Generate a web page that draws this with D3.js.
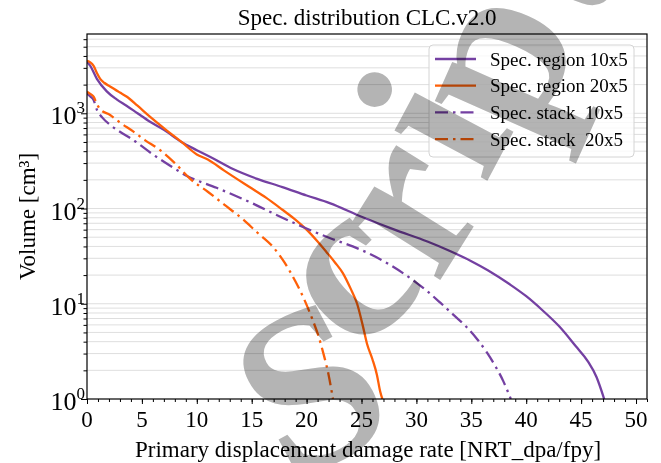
<!doctype html>
<html lang="en">
<head>
  <meta charset="utf-8">
  <title>Spec. distribution CLC.v2.0</title>
  <style>
    body { margin: 0; background: #fff; }
    svg { display: block; font-family: "Liberation Serif", "Times New Roman", serif; }
    .grid line { stroke: #d6d6d6; stroke-width: 0.8; }
    .axis path, .axis line { stroke: #000; }
    .legend text { white-space: pre; }
    .watermark text { fill: #b4b4b4; font-weight: bold; }
    .watermark { mix-blend-mode: multiply; }
  </style>
</head>
<body>
  <div id="chart"></div>
  <script src="https://cdn.jsdelivr.net/npm/d3@7"></script>
  <script>
// series values: damage rate [NRT_dpa/fpy] -> volume [cm3]
var seriesNames = ["Spec. region 10x5", "Spec. region 20x5", "Spec. stack  10x5", "Spec. stack  20x5"];

var rateRegion10 = [0, 0.3, 0.9, 1.8, 2.7, 3.6, 4.6, 5.7, 7, 8.6, 10, 11.5, 13.3, 15.5, 17.8, 20, 22.1, 25, 28, 31, 33, 35, 36.5, 38.5, 40, 41.5, 43, 44.5, 45.6, 46.4, 47.1];
var volRegion10 = [3480, 3150, 2300, 1700, 1400, 1200, 1000, 820, 670, 500, 410, 335, 260, 205, 168, 137, 114, 82, 60, 45, 36, 28, 22.5, 16, 12, 8.5, 5.8, 3.6, 2.5, 1.7, 1.0];

var rateRegion20 = [0, 0.3, 0.6, 0.9, 1.2, 1.6, 2.1, 3, 3.6, 4.6, 5.7, 7, 8.6, 10, 11, 12.5, 14.8, 16.3, 17.8, 19, 20, 21, 21.8, 22.6, 23.3, 24, 24.6, 25.1, 25.5, 26, 26.4, 26.7, 26.9];
var volRegion20 = [3550, 3420, 3150, 2650, 2300, 2080, 1910, 1650, 1500, 1200, 930, 700, 500, 370, 327, 250, 168, 130, 97, 76, 60, 45, 35, 27, 21, 14.5, 10, 6, 3.8, 2.6, 1.8, 1.2, 1.0];

var rateStack10 = [0, 0.3, 0.6, 0.9, 1.4, 2.1, 3, 4.2, 6, 7.5, 9.1, 11.8, 14.8, 17.6, 19.4, 22.1, 24.2, 25.5, 27.5, 29.6, 31, 32.2, 33.3, 34.5, 35.5, 36.4, 37.2, 37.9, 38.6];
var volStack10 = [1620, 1500, 1380, 1090, 900, 755, 640, 525, 370, 285, 220, 165, 117, 82, 66, 49, 40, 34.5, 26, 18, 13.5, 10.2, 7.8, 5.8, 4.3, 3.1, 2.2, 1.55, 1.0];

var rateStack20 = [0, 0.3, 0.6, 0.9, 1.2, 2.1, 3, 4.2, 5.3, 6.6, 8, 9.4, 11, 12.5, 14.2, 15.5, 16.9, 18, 19, 19.8, 20.5, 21.1, 21.6, 22, 22.4];
var volStack20 = [1680, 1600, 1500, 1250, 1100, 960, 800, 645, 520, 415, 300, 205, 150, 110, 77, 56, 40, 27, 17, 11, 7, 4.5, 2.8, 1.8, 1.0];

var xTicks = [0, 5, 10, 15, 20, 25, 30, 35, 40, 45, 50];
var yTicks = [1, 10, 100, 1000];

(function() {

  var width = 661, height = 463;
  var left = 87, right = 647, top = 34, bottom = 399;
  var purple = "#7440a2", orange = "#ff6008";

  var svg = d3.select("#chart").append("svg")
      .attr("width", width)
      .attr("height", height);

  var x = d3.scaleLinear().domain([0, 51]).range([left, right]);
  var y = d3.scaleLog().domain([1, 6800]).range([bottom, top]);

  // light horizontal grid on every log tick
  svg.append("g").attr("class", "grid")
    .selectAll("line")
    .data(y.ticks().filter(function(d) { return d > 1; }))
    .enter().append("line")
      .attr("x1", left).attr("x2", right)
      .attr("y1", function(d) { return y(d); })
      .attr("y2", function(d) { return y(d); });

  svg.append("defs").append("clipPath").attr("id", "plot")
    .append("rect").attr("x", left).attr("y", top)
    .attr("width", right - left).attr("height", bottom - top);

  var series = [
    { name: seriesNames[0], xs: rateRegion10, ys: volRegion10, color: purple, dash: null },
    { name: seriesNames[1], xs: rateRegion20, ys: volRegion20, color: orange, dash: null },
    { name: seriesNames[2], xs: rateStack10, ys: volStack10, color: purple, dash: "13,5,2.5,5" },
    { name: seriesNames[3], xs: rateStack20, ys: volStack20, color: orange, dash: "13,5,2.5,5" }
  ];

  var line = d3.line()
      .x(function(d) { return x(d[0]); })
      .y(function(d) { return y(d[1]); })
      .curve(d3.curveMonotoneX);

  svg.append("g").attr("clip-path", "url(#plot)")
    .selectAll("path")
    .data(series)
    .enter().append("path")
      .attr("d", function(s) { return line(d3.zip(s.xs, s.ys)); })
      .attr("fill", "none")
      .attr("stroke", function(s) { return s.color; })
      .attr("stroke-width", 2.3)
      .attr("stroke-dasharray", function(s) { return s.dash; });

  // frame
  svg.append("rect")
    .attr("x", left).attr("y", top)
    .attr("width", right - left).attr("height", bottom - top)
    .attr("fill", "none").attr("stroke", "#000").attr("stroke-width", 1.2);

  // x axis
  svg.append("g").attr("class", "axis")
    .attr("transform", "translate(0," + bottom + ")")
    .call(d3.axisBottom(x).tickValues(xTicks).tickSize(5).tickSizeOuter(0).tickFormat(""))
    .select(".domain").remove();
  svg.append("g").attr("class", "axis")
    .attr("transform", "translate(0," + bottom + ")")
    .call(d3.axisBottom(x).tickValues(x.ticks(51)).tickSize(3).tickSizeOuter(0).tickFormat(""))
    .select(".domain").remove();
  svg.append("g").selectAll("text")
    .data(xTicks)
    .enter().append("text")
      .attr("x", function(d) { return x(d); })
      .attr("y", 427)
      .attr("text-anchor", "middle")
      .attr("font-size", 23)
      .text(function(d) { return d; });

  // y axis
  svg.append("g").attr("class", "axis")
    .attr("transform", "translate(" + left + ",0)")
    .call(d3.axisLeft(y).tickValues(yTicks).tickSize(6).tickSizeOuter(0).tickFormat(""))
    .select(".domain").remove();
  svg.append("g").attr("class", "axis")
    .attr("transform", "translate(" + left + ",0)")
    .call(d3.axisLeft(y).tickValues(y.ticks().filter(function(d) { return yTicks.indexOf(d) < 0; }))
      .tickSize(3.5).tickSizeOuter(0).tickFormat(""))
    .select(".domain").remove();
  var yLab = svg.append("g").selectAll("text")
    .data(yTicks)
    .enter().append("text")
      .attr("x", 85)
      .attr("y", function(d) { return y(d) + 11; })
      .attr("text-anchor", "end")
      .attr("font-size", 26);
  yLab.append("tspan").text("10");
  yLab.append("tspan")
    .attr("dy", -11)
    .attr("font-size", 17)
    .text(function(d) { return Math.round(Math.log10(d)); });

  // titles
  svg.append("text")
    .attr("x", (left + right) / 2).attr("y", 25)
    .attr("text-anchor", "middle").attr("font-size", 23)
    .text("Spec. distribution CLC.v2.0");
  svg.append("text")
    .attr("x", (left + right) / 2 + 1).attr("y", 457)
    .attr("text-anchor", "middle").attr("font-size", 23)
    .text("Primary displacement damage rate [NRT_dpa/fpy]");
  svg.append("text")
    .attr("transform", "translate(35," + (top + bottom) / 2 + ") rotate(-90)")
    .attr("text-anchor", "middle").attr("font-size", 23)
    .text("Volume [cm\u00b3]");

  // legend
  var legend = svg.append("g").attr("class", "legend");
  legend.append("rect")
    .attr("x", 429).attr("y", 45).attr("width", 205).attr("height", 112)
    .attr("rx", 4).attr("fill", "#fff").attr("fill-opacity", 0.8)
    .attr("stroke", "#d4d4d4");
  var item = legend.selectAll("g.item")
    .data(series)
    .enter().append("g").attr("class", "item")
      .attr("transform", function(s, i) { return "translate(0," + (59 + i * 26.7) + ")"; });
  item.append("line")
    .attr("x1", 435).attr("x2", 476)
    .attr("stroke", function(s) { return s.color; })
    .attr("stroke-width", 2.3)
    .attr("stroke-dasharray", function(s) { return s.dash; });
  item.append("text")
    .attr("x", 490).attr("y", 6.5)
    .attr("font-size", 19)
    .text(function(s) { return s.name; });

  // grey "Script" watermark over the figure, its letters turning along an arc
  var markLetters = ["S", "c", "r", "i", "p", "t"];
  var markPlace = [[346, 456, -28], [393, 322, -45], [464, 242, -58], [500, 157, -62], [556, 88, -66], [612, -8, -70]];
  svg.append("g").attr("class", "watermark")
    .selectAll("text")
    .data(markLetters)
    .enter().append("text")
      .attr("transform", function(d, i) {
        var p = markPlace[i];
        return "translate(" + p[0] + "," + p[1] + ") rotate(" + p[2] + ")";
      })
      .attr("text-anchor", "middle")
      .attr("font-size", 230)
      .text(function(d) { return d; });

})();
  </script>
</body>
</html>
